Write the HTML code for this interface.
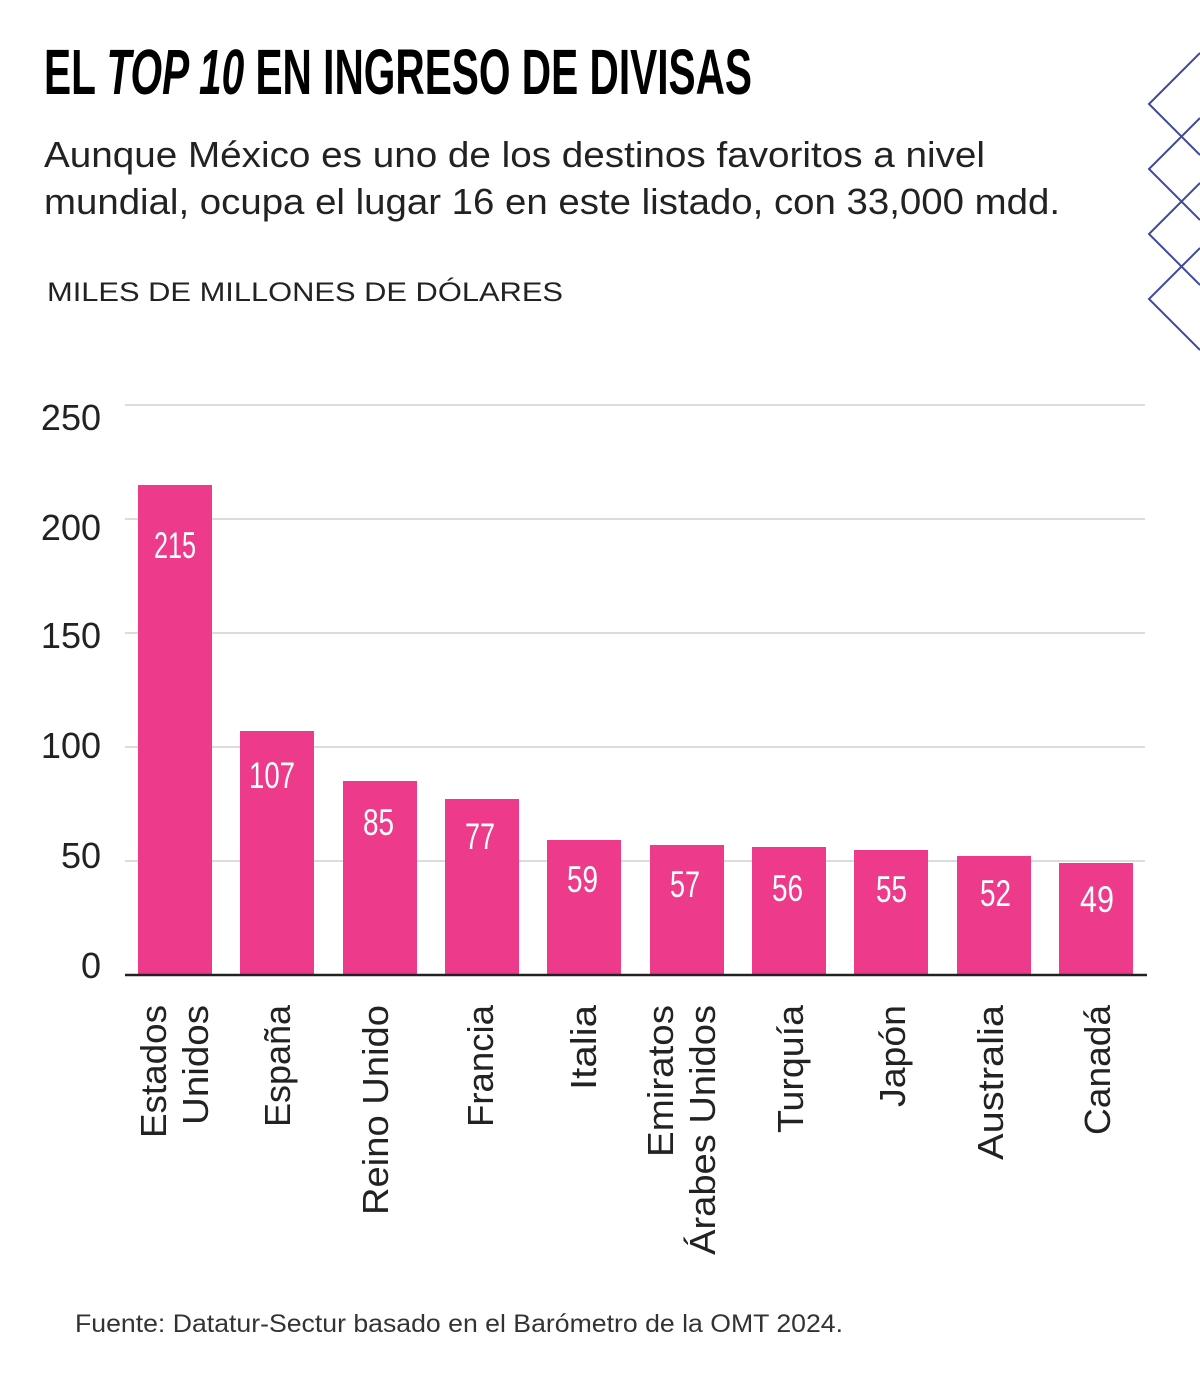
<!DOCTYPE html>
<html><head><meta charset="utf-8"><style>
html,body{margin:0;padding:0;background:#fff;}
svg{display:block;font-family:"Liberation Sans",sans-serif;}
</style></head><body>
<svg width="1200" height="1381" viewBox="0 0 1200 1381" xmlns="http://www.w3.org/2000/svg">
<rect width="1200" height="1381" fill="#fff"/>
<g fill="none" stroke="#3f4a9a" stroke-width="2">
<polyline points="1200,53 1149,104 1200,155"/>
<polyline points="1200,118 1149,169 1200,220"/>
<polyline points="1200,183 1149,234 1200,285"/>
<polyline points="1200,248 1149,299 1200,350"/>
</g>
<text x="44" y="94" font-family="Liberation Sans Narrow, Liberation Sans, sans-serif" font-weight="bold" font-size="64" fill="#000" textLength="708" lengthAdjust="spacingAndGlyphs">EL <tspan font-style="italic">TOP 10</tspan> EN INGRESO DE DIVISAS</text>
<text x="44" y="167" font-size="36" fill="#222" textLength="941" lengthAdjust="spacingAndGlyphs">Aunque México es uno de los destinos favoritos a nivel</text>
<text x="44" y="214" font-size="36" fill="#222" textLength="1016" lengthAdjust="spacingAndGlyphs">mundial, ocupa el lugar 16 en este listado, con 33,000 mdd.</text>
<text x="47" y="301" font-size="27" fill="#222" textLength="516" lengthAdjust="spacingAndGlyphs">MILES DE MILLONES DE DÓLARES</text>
<g stroke="#d0d0d0" stroke-width="1.5">
<line x1="125" x2="1145" y1="405" y2="405"/><line x1="125" x2="1145" y1="519" y2="519"/>
<line x1="125" x2="1145" y1="633" y2="633"/><line x1="125" x2="1145" y1="747" y2="747"/>
<line x1="125" x2="1145" y1="861" y2="861"/>
</g>
<g font-size="36" fill="#222" text-anchor="end">
<text x="101" y="430">250</text><text x="101" y="540">200</text><text x="101" y="648">150</text>
<text x="101" y="758">100</text><text x="101" y="868">50</text><text x="101" y="978">0</text>
</g>
<g fill="#ee3a8b">
<rect x="138" y="485" width="74" height="490"/>
<rect x="240" y="731" width="74" height="244"/>
<rect x="343" y="781" width="74" height="194"/>
<rect x="445" y="799" width="74" height="176"/>
<rect x="547" y="840" width="74" height="135"/>
<rect x="650" y="845" width="74" height="130"/>
<rect x="752" y="847" width="74" height="128"/>
<rect x="854" y="850" width="74" height="125"/>
<rect x="957" y="856" width="74" height="119"/>
<rect x="1059" y="863" width="74" height="112"/>
</g>
<line x1="125" x2="1147" y1="975" y2="975" stroke="#222" stroke-width="2.5"/>
<g font-family="Liberation Sans Narrow, Liberation Sans, sans-serif" font-size="37" fill="#fff" lengthAdjust="spacingAndGlyphs">
<text x="154" y="558" textLength="42" lengthAdjust="spacingAndGlyphs">215</text>
<text x="249" y="788" textLength="46" lengthAdjust="spacingAndGlyphs">107</text>
<text x="363" y="835" textLength="31" lengthAdjust="spacingAndGlyphs">85</text>
<text x="465" y="849" textLength="30" lengthAdjust="spacingAndGlyphs">77</text>
<text x="567" y="892" textLength="31" lengthAdjust="spacingAndGlyphs">59</text>
<text x="670" y="897" textLength="30" lengthAdjust="spacingAndGlyphs">57</text>
<text x="772" y="901" textLength="31" lengthAdjust="spacingAndGlyphs">56</text>
<text x="876" y="902" textLength="31" lengthAdjust="spacingAndGlyphs">55</text>
<text x="980" y="906" textLength="31" lengthAdjust="spacingAndGlyphs">52</text>
<text x="1080" y="912" textLength="34" lengthAdjust="spacingAndGlyphs">49</text>
</g>
<g font-size="36" fill="#222" text-anchor="end">
<text transform="translate(166,1005) rotate(-90)" textLength="133" lengthAdjust="spacingAndGlyphs">Estados</text>
<text transform="translate(208,1005) rotate(-90)" textLength="120" lengthAdjust="spacingAndGlyphs">Unidos</text>
<text transform="translate(290,1005) rotate(-90)" textLength="122" lengthAdjust="spacingAndGlyphs">España</text>
<text transform="translate(388,1005) rotate(-90)" textLength="210" lengthAdjust="spacingAndGlyphs">Reino Unido</text>
<text transform="translate(493,1005) rotate(-90)" textLength="122" lengthAdjust="spacingAndGlyphs">Francia</text>
<text transform="translate(596,1005) rotate(-90)" textLength="85" lengthAdjust="spacingAndGlyphs">Italia</text>
<text transform="translate(673,1005) rotate(-90)" textLength="152" lengthAdjust="spacingAndGlyphs">Emiratos</text>
<text transform="translate(715,1005) rotate(-90)" textLength="250" lengthAdjust="spacingAndGlyphs">Árabes Unidos</text>
<text transform="translate(803,1005) rotate(-90)" textLength="128" lengthAdjust="spacingAndGlyphs">Turquía</text>
<text transform="translate(905,1005) rotate(-90)" textLength="102" lengthAdjust="spacingAndGlyphs">Japón</text>
<text transform="translate(1003,1005) rotate(-90)" textLength="155" lengthAdjust="spacingAndGlyphs">Australia</text>
<text transform="translate(1110,1005) rotate(-90)" textLength="130" lengthAdjust="spacingAndGlyphs">Canadá</text>
</g>
<text x="75" y="1332" font-size="25" fill="#333" textLength="768" lengthAdjust="spacingAndGlyphs">Fuente: Datatur-Sectur basado en el Barómetro de la OMT 2024.</text>
</svg>
</body></html>
